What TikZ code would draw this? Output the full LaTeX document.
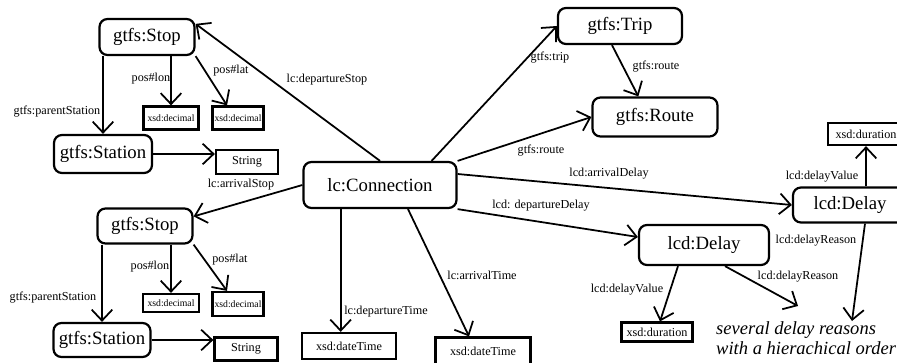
\documentclass[tikz,border=0pt]{standalone}
\usepackage{fontspec}
\setmainfont{Liberation Serif}
\usetikzlibrary{arrows.meta, positioning}

\begin{document}
\begin{tikzpicture}[
        x=0.03cm, y=-0.03cm,
        every node/.style={font=\fontsize{10.4}{12}\selectfont},
        cls/.style={rectangle, draw, line width=1.9pt, rounded corners=0.24cm, inner sep=0pt, font=\fontsize{16}{18}\selectfont},
        lit/.style={rectangle, draw, line width=1.9pt, inner sep=0pt},
        small/.style={font=\fontsize{8.3}{10}\selectfont},
        lbl/.style={inner sep=0pt},
        arrow/.style={-{Straight Barb[length=0.33cm, width=0.62cm]}, line width=1.5pt}
    ]
    \useasboundingbox (0,0) rectangle (897,362);
%
    % Departure stop
    \node[cls, minimum width=2.85cm, minimum height=1.08cm] (stopA) at (147,37) {gtfs:Stop};
    \node[cls, minimum width=2.94cm, minimum height=1.14cm] (stationA) at (103,154) {gtfs:Station};
    \node[lit, small, minimum width=1.65cm, minimum height=0.69cm] (lonA) at (171,118) {xsd:decimal};
    \node[lit, small, minimum width=1.53cm, minimum height=0.69cm] (latA) at (238,118) {xsd:decimal};
    \node[lit, minimum width=1.86cm, minimum height=0.72cm] (strA) at (247,162) {String};
    \node[lbl] (lbParentA) at (57,112) {gtfs:parentStation};
    \node[lbl] (lbLonA) at (151,79) {pos\#lon};
    \node[lbl] (lbLatA) at (231,71) {pos\#lat};
%
    \draw[arrow] (stationA.north |- stopA.south) -- (stationA.north);
    \draw[arrow] (lonA.north |- stopA.south) -- (lonA.north);
    \draw[arrow] (stopA.south east) -- ([xshift=-0.33cm]latA.north);
    \draw[arrow] (stationA.east) -- (stationA.east -| strA.west);
%
    % Arrival stop
    \node[cls, minimum width=2.85cm, minimum height=1.05cm] (stopB) at (145,226) {gtfs:Stop};
    \node[cls, minimum width=2.91cm, minimum height=1.02cm] (stationB) at (102,340) {gtfs:Station};
    \node[lit, small, minimum width=1.68cm, minimum height=0.54cm] (lonB) at (171,303) {xsd:decimal};
    \node[lit, small, minimum width=1.53cm, minimum height=0.72cm] (latB) at (238,304) {xsd:decimal};
    \node[lit, minimum width=1.89cm, minimum height=0.69cm] (strB) at (246,349) {String};
    \node[lbl] (lbParentB) at (53,298) {gtfs:parentStation};
    \node[lbl] (lbLonB) at (150,267) {pos\#lon};
    \node[lbl] (lbLatB) at (230,260) {pos\#lat};
%
    \draw[arrow] (stationB.north |- stopB.south) -- (stationB.north);
    \draw[arrow] (lonB.north |- stopB.south) -- (lonB.north);
    \draw[arrow] (stopB.south east) -- ([xshift=-0.33cm]latB.north);
    \draw[arrow] (stationB.east) -- (stationB.east -| strB.west);
%
    % Connection
    \node[cls, minimum width=4.59cm, minimum height=1.38cm] (conn) at (380,185) {lc:Connection};
    \node[lit, minimum width=2.82cm, minimum height=0.78cm] (dtA) at (349,346) {xsd:dateTime};
    \node[lit, minimum width=2.85cm, minimum height=0.81cm] (dtB) at (483,351) {xsd:dateTime};
    \node[lbl] (lbDepStop) at (327,80) {lc:departureStop};
    \node[lbl] (lbArrStop) at (241,185) {lc:arrivalStop};
    \node[lbl] (lbDepTime) at (386,312) {lc:departureTime};
    \node[lbl] (lbArrTime) at (482,275) {lc:arrivalTime};
%
    \draw[arrow] (conn.north) -- ([yshift=-0.18cm]stopA.north east);
    \draw[arrow] (conn.west) -- ([yshift=-0.27cm]stopB.north east);
    \draw[arrow] ([xshift=-0.25cm]dtA.north |- conn.south) -- ([xshift=-0.25cm]dtA.north);
    \draw[arrow] ([xshift=0.84cm]conn.south) -- ([xshift=-0.42cm]dtB.north);
%
    % Trip and route
    \node[cls, minimum width=3.72cm, minimum height=1.08cm] (trip) at (620,26) {gtfs:Trip};
    \node[cls, minimum width=3.75cm, minimum height=1.17cm] (route) at (655,117) {gtfs:Route};
    \node[lbl] (lbTrip) at (550,58) {gtfs:trip};
    \node[lbl] (lbRouteA) at (656,67) {gtfs:route};
    \node[lbl] (lbRouteB) at (541,151) {gtfs:route};
%
    \draw[arrow] ([xshift=-0.78cm]conn.north east) -- (trip.west);
    \draw[arrow] (conn.north east) -- (route.west);
    \draw[arrow] ([xshift=-0.24cm]trip.south) -- ([xshift=-0.5cm]route.north);
%
    % Delays
    \node[cls, minimum width=3.9cm, minimum height=1.2cm] (delayA) at (704,245) {lcd:Delay};
    \node[cls, minimum width=3.42cm, minimum height=1.05cm] (delayB) at (850,205) {lcd:Delay};
    \node[lit, minimum width=2.13cm, minimum height=0.57cm] (durA) at (657,332) {xsd:duration};
    \node[lit, minimum width=2.28cm, minimum height=0.66cm] (durB) at (866,134) {xsd:duration};
    \node[anchor=north west, inner sep=0pt, align=left, font=\fontsize{15.8}{17.5}\selectfont\itshape] (note) at (716,321) {several delay reasons\\with a hierachical order};
    \coordinate (reasonA) at (798,306);
    \coordinate (reasonB) at (852,321);
    \node[lbl] (lbArrDelay) at (609,174) {lcd:arrivalDelay};
    \node[lbl] (lbDepDelay) at (541,206) {lcd: departureDelay};
    \node[lbl] (lbValueA) at (627,290) {lcd:delayValue};
    \node[lbl] (lbReasonA) at (798,277) {lcd:delayReason};
    \node[lbl] (lbReasonB) at (816,241) {lcd:delayReason};
    \node[lbl] (lbValueB) at (822,177) {lcd:delayValue};
%
    \draw[arrow] ([yshift=0.33cm]conn.east) -- (delayB.west);
    \draw[arrow] (conn.south east) -- ([yshift=0.24cm]delayA.west);
    \draw[arrow] ([xshift=-0.78cm]delayA.south) -- ([xshift=0.09cm]durA.north);
    \draw[arrow] ([xshift=0.63cm]delayA.south) -- (reasonA);
    \draw[arrow] ([xshift=0.45cm]delayB.south) -- (reasonB);
    \draw[arrow] (durB.south |- delayB.north) -- (durB.south);
%
\end{tikzpicture}
\end{document}
